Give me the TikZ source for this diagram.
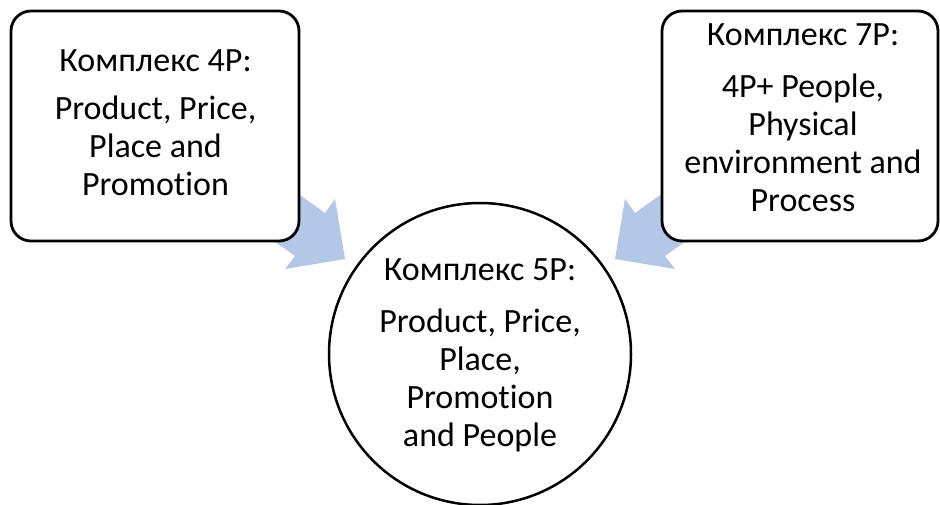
\documentclass[tikz,border=0pt]{standalone}
\usepackage{fontspec}
\setmainfont{Carlito}[Ligatures={NoCommon}]
\begin{document}
\begin{tikzpicture}[x=1pt,y=-1pt,
  box/.style={draw=black,line width=2.8pt,fill=white,rounded corners=20pt},
  ring/.style={draw=black,line width=2.5pt,fill=white,circle,inner sep=0pt},
  blockarrow/.style={fill=arrowblue,draw=none},
  label/.style={align=center,inner sep=0pt,font=\fontsize{34}{38}\selectfont}]
\definecolor{arrowblue}{HTML}{B4C7E7}
\useasboundingbox (0,0) rectangle (940,504);

% block arrows (drawn first, tails tucked under the boxes)
\fill[blockarrow] (243.6,154.9) -- (325,213) -- (335,199) -- (345,259)
  -- (285,269) -- (295,256) -- (213.6,197.9) -- cycle;
\fill[blockarrow] (716.4,154.9) -- (635,213) -- (625,199) -- (615,259)
  -- (675,269) -- (665,256) -- (746.4,197.9) -- cycle;

% the three blocks
\path[box] (11,11) rectangle (299,241);
\path[box] (662,11) rectangle (938,241);
\node[ring,minimum size=302pt] (five) at (480,354) {};

\node[label,anchor=north] (t4) at (155.5,49.5) {Комплекс 4P:\\[10pt]
  Product, Price,\\ Place and\\ Promotion};
\node[label,anchor=north] (t7) at (803,23.5) {Комплекс 7P:\\[14pt]
  4P+ People,\\ Physical\\ environment and\\ Process};
\node[label,anchor=north] (t5) at (480,258.5) {Комплекс 5P:\\[14pt]
  Product, Price,\\ Place,\\ Promotion\\ and People};
\end{tikzpicture}
\end{document}
